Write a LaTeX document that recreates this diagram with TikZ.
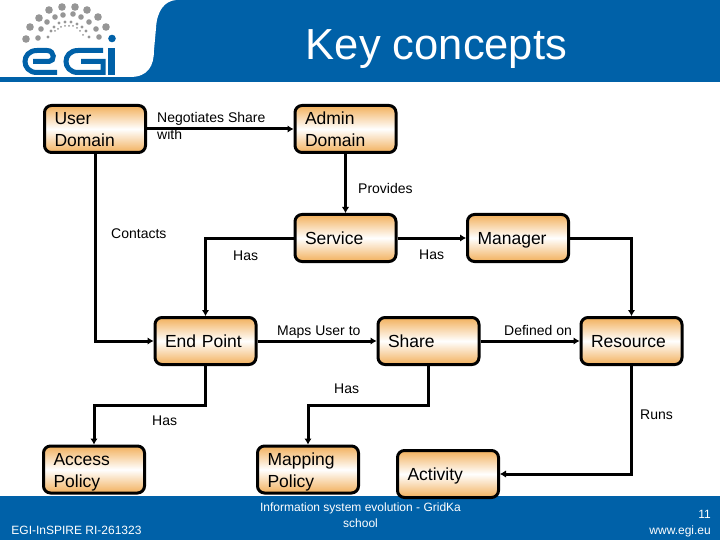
\documentclass[tikz,border=0pt]{standalone}
\usepackage{fontspec}
\setmainfont{Liberation Sans}
\usetikzlibrary{arrows.meta}
\definecolor{egiblue}{RGB}{0,97,168}
\definecolor{egigrey}{RGB}{150,150,150}
\definecolor{boxorange}{RGB}{242,176,92}
\tikzset{
  concept/.style={draw=black,line width=3pt,rounded corners=7pt,top color=boxorange,bottom color=boxorange,middle color=white,
    minimum height=47pt,text width=81pt,inner xsep=10pt,inner ysep=0pt,align=left,font=\fontsize{17.5}{22}\selectfont,
    execute at begin node=\rule{0pt}{17.5pt},execute at end node=\vphantom{y}},
  relation/.style={font=\fontsize{14}{17}\selectfont,inner sep=0pt,anchor=base west},
  link/.style={line width=3pt,-{Latex[length=6pt,width=7.5pt]}},
  footer/.style={font=\fontsize{12}{16}\selectfont,text=white,inner sep=0pt,align=center},
  logostroke/.style={egiblue,line width=5pt}
}
\begin{document}
\begin{tikzpicture}[x=1pt,y=-1pt]
  \useasboundingbox (0,0) rectangle (720,540);

  % header and footer
  \fill[egiblue] (0,0) rectangle (720,82);
  \fill[white] (0,0) -- (0,77) -- (130,77) .. controls (148,77) and (154,66) .. (154,50) -- (156,28) .. controls (157,10) and (165,1) .. (176,0) -- cycle;
  \fill[egiblue] (0,496) rectangle (720,540);

  % logo
  \foreach \px/\py/\rad in {26/39/3.800,30/27/3.800,39/18/3.800,49/10/3.800,62/7/3.800,75/7/3.800,87/10/3.800,98/17/3.800,106/27/3.800,
      38/38/2.800,41/29/2.800,47/22/2.800,55/17/2.800,63/15/2.800,73/14/2.800,81/17/2.800,89/22/2.800,96/29/2.800,99/37/2.800,
      48/37/1.700,51/31/1.700,54/27/1.700,59/23/1.700,65/22/1.700,71/22/1.700,77/24/1.700,82/27/1.700,86/31/1.700,89/37/1.700,
      55/31/1,58/29/1,61/27/1,65/26/1,69/26/1,73/26/1,77/28/1,80/31/1,83/35/1}
    \fill[egigrey] (\px,\py) circle (\rad);
  \fill[egiblue] (112,38.500) circle (3.800);
  \draw[logostroke] (33,61.500) -- (49,61.500) .. controls (55,61.500) and (55,50.500) .. (47,50.500) -- (37,50.500)
    .. controls (21,50.500) and (21,72.500) .. (37,72.500) -- (57,72.500);
  \draw[logostroke] (103,50.500) -- (78,50.500) .. controls (62,50.500) and (62,72.500) .. (78,72.500) -- (103,72.500) -- (103,61.500) -- (81,61.500);
  \fill[egiblue] (108,48) rectangle (115,75);

  % title
  \node[text=white,inner sep=0pt,font=\fontsize{43.500}{44}\selectfont] (title) at (436.500,49) {Key concepts};

  % concepts
  \node[concept] (userdomain) at (95,129) {User\\Domain};
  \node[concept] (admindomain) at (345.500,129) {Admin\\Domain};
  \node[concept] (service) at (345.500,238) {Service};
  \node[concept] (manager) at (518,238) {Manager};
  \node[concept] (endpoint) at (205.500,341) {End Point};
  \node[concept] (share) at (428.500,341) {Share};
  \node[concept] (resource) at (631.500,341) {Resource};
  \node[concept] (accesspolicy) at (94,469.500) {Access\\Policy};
  \node[concept] (mappingpolicy) at (308,469.500) {Mapping\\Policy};
  \node[concept] (activity) at (448,474) {Activity};

  \coordinate (accessturn) at (150,405);
  \coordinate (mappingturn) at (370,405);

  % relations
  \draw[link] (userdomain) -- (admindomain);
  \draw[link] (userdomain.south) |- (endpoint.west);
  \draw[link] (admindomain) -- (service);
  \draw[link] (service.west) -| (endpoint.north);
  \draw[link] (service) -- (manager);
  \draw[link] (manager.east) -| (resource.north);
  \draw[link] (endpoint) -- (share);
  \draw[link] (share) -- (resource);
  \draw[link] (endpoint.south) |- (accessturn) -| (accesspolicy.north);
  \draw[link] (share.south) |- (mappingturn) -| (mappingpolicy.north);
  \draw[link] (resource.south) |- (activity.east);

  % labels
  \node[relation,align=left] (negotiates) at (157,140) {Negotiates Share\\with};
  \node[relation] (provides) at (358,194) {Provides};
  \node[relation] (contacts) at (111,238) {Contacts};
  \node[relation] (hasend) at (233,260) {Has};
  \node[relation] (hasmanager) at (419,259) {Has};
  \node[relation] (mapsuser) at (277,335) {Maps User to};
  \node[relation] (definedon) at (504,335) {Defined on};
  \node[relation] (hasmapping) at (334,393) {Has};
  \node[relation] (hasaccess) at (152,425) {Has};
  \node[relation] (runs) at (640,419) {Runs};

  % footer text
  \node[footer] (project) at (76.500,530.500) {EGI-InSPIRE RI-261323};
  \node[footer] (school) at (360.500,515) {Information system evolution - GridKa\\school};
  \node[footer,align=right,anchor=east] (page) at (711,523.500) {11\\www.egi.eu};
\end{tikzpicture}
\end{document}
